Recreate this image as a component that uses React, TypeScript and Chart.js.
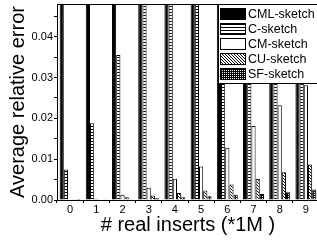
import React, { useEffect, useRef } from 'react';
import { Chart, registerables } from 'chart.js';

Chart.register(...registerables);

// ---- data ----
const categories = ['0', '1', '2', '3', '4', '5', '6', '7', '8', '9'];
const seriesLabels = ['CML-sketch', 'C-sketch', 'CM-sketch', 'CU-sketch', 'SF-sketch'];
// CML-sketch and most C-sketch bars run past the top of the plot (clipped); values above the axis are estimates
const cmlErrors = [0.09, 0.1, 0.11, 0.12, 0.13, 0.14, 0.15, 0.16, 0.17, 0.18];
const cErrors = [0.0075, 0.0188, 0.0355, 0.052, 0.068, 0.084, 0.1, 0.116, 0.132, 0.148];
const cmErrors = [0.0001, 0.0003, 0.0013, 0.003, 0.0052, 0.0082, 0.0128, 0.0181, 0.0232, 0.0281];
const cuErrors = [0.00005, 0.0001, 0.0007, 0.0011, 0.0017, 0.0023, 0.0038, 0.0052, 0.0068, 0.0087];
const sfErrors = [0.00002, 0.00005, 0.0002, 0.0004, 0.0007, 0.0009, 0.0013, 0.0015, 0.0019, 0.0026];
const yTickValues = [0, 0.005, 0.01, 0.015, 0.02, 0.025, 0.03, 0.035, 0.04, 0.045];
const yMax = 0.048;
const xTitle = '# real inserts (*1M )';
const yTitle = 'Average relative error';

const FONT = '"Liberation Sans", Arial, sans-serif';

function makeFill(kind: string): CanvasPattern | string {
  if (kind === 'solid') return '#000';
  if (kind === 'white') return '#fff';
  const c = document.createElement('canvas');
  const g = c.getContext('2d')!;
  if (kind === 'stripes') {
    c.width = 4; c.height = 3;
    g.fillStyle = '#fff'; g.fillRect(0, 0, 4, 3);
    g.fillStyle = '#000'; g.fillRect(0, 0, 4, 1);
  } else if (kind === 'hatch') {
    c.width = 3; c.height = 3;
    g.fillStyle = '#fff'; g.fillRect(0, 0, 3, 3);
    g.fillStyle = '#000';
    for (let i = 0; i < 3; i++) g.fillRect(i, i, 1, 1);
  } else {
    c.width = 2; c.height = 2;
    g.fillStyle = '#000'; g.fillRect(0, 0, 2, 2);
    g.fillStyle = '#fff'; g.fillRect(0, 0, 1, 1);
  }
  return g.createPattern(c, 'repeat')!;
}

const framePlugin = {
  id: 'topFrame',
  afterDatasetsDraw(chart: any) {
    const { ctx, chartArea } = chart;
    ctx.save();
    ctx.strokeStyle = '#000';
    ctx.lineWidth = 1;
    ctx.beginPath();
    ctx.moveTo(chartArea.left, Math.round(chartArea.top) + 0.5);
    ctx.lineTo(chartArea.right, Math.round(chartArea.top) + 0.5);
    ctx.stroke();
    ctx.restore();
  },
};

const boxLegendPlugin = {
  id: 'boxLegend',
  afterDraw(chart: any) {
    const { ctx, chartArea } = chart;
    const left = 218.5;
    const top = Math.round(chartArea.top) + 0.5;
    const rowH = 15;
    const n = chart.data.datasets.length;
    const boxH = 3 + n * rowH + 1;
    ctx.save();
    ctx.fillStyle = '#fff';
    ctx.fillRect(left, top, chart.width - left + 2, boxH);
    ctx.strokeStyle = '#000';
    ctx.lineWidth = 1;
    ctx.strokeRect(left, top, chart.width - left + 4, boxH);
    chart.data.datasets.forEach((ds: any, i: number) => {
      const sy = Math.round(top) + 3 + i * rowH;
      ctx.fillStyle = ds.backgroundColor;
      ctx.fillRect(220, sy, 26, 12);
      ctx.strokeRect(220.5, sy + 0.5, 25, 11);
      ctx.fillStyle = '#000';
      ctx.font = `12.5px ${FONT}`;
      ctx.textBaseline = 'middle';
      ctx.textAlign = 'left';
      ctx.fillText(ds.label, 248, sy + 6.5);
    });
    ctx.restore();
  },
};

export default function App() {
  const ref = useRef<HTMLCanvasElement>(null);

  useEffect(() => {
    const canvas = ref.current!;
    const fills = ['solid', 'stripes', 'white', 'hatch', 'dots'].map(makeFill);
    const series = [cmlErrors, cErrors, cmErrors, cuErrors, sfErrors];
    const chart = new Chart(canvas, {
      type: 'bar',
      data: {
        labels: categories,
        datasets: series.map((values, i) => ({
          label: seriesLabels[i],
          data: values,
          backgroundColor: fills[i] as any,
          borderColor: '#000',
          borderWidth: 1,
          categoryPercentage: 0.8,
          barPercentage: 1,
        })),
      },
      options: {
        responsive: false,
        animation: false,
        devicePixelRatio: 1,
        layout: { padding: { top: 4, left: 0, right: 1, bottom: 0 } },
        plugins: {
          legend: { display: false },
          tooltip: { enabled: false },
        },
        scales: {
          x: {
            grid: {
              display: true,
              drawOnChartArea: false,
              drawTicks: true,
              tickLength: 3,
              color: '#000',
              offset: true,
            },
            border: { display: true, color: '#000', width: 1 },
            ticks: {
              color: '#000',
              padding: 0,
              font: { family: FONT, size: 11 },
              maxRotation: 0,
              autoSkip: false,
            },
            title: {
              display: true,
              text: xTitle,
              color: '#000',
              font: { family: FONT, size: 20 },
              padding: { top: 0, bottom: 7 },
            },
            afterFit: (s: any) => {
              s.height = 44;
              s.paddingLeft = 0;
              s.paddingRight = 0;
            },
          },
          y: {
            min: 0,
            max: yMax,
            grid: {
              display: true,
              drawOnChartArea: false,
              drawTicks: true,
              tickLength: 3,
              color: '#000',
            },
            border: { display: true, color: '#000', width: 1 },
            afterBuildTicks: (s: any) => {
              s.ticks = yTickValues.map((v) => ({ value: v }));
            },
            ticks: {
              color: '#000',
              padding: 1,
              font: { family: FONT, size: 11 },
              callback: (v: any) => {
                const n = Number(v);
                const k = Math.round(n * 1000);
                return k % 10 === 0 ? n.toFixed(2) : '';
              },
            },
            title: {
              display: true,
              text: yTitle,
              color: '#000',
              font: { family: FONT, size: 20 },
              padding: { top: 6, bottom: 0 },
            },
            afterFit: (s: any) => {
              s.width = 57;
              s.paddingTop = 0;
              s.paddingBottom = 0;
            },
          },
        },
      },
      plugins: [framePlugin, boxLegendPlugin],
    });
    return () => chart.destroy();
  }, []);

  return (
    <div style={{ position: 'fixed', left: 0, top: 0, width: 320, height: 244, overflow: 'hidden', background: '#fff' }}>
      <canvas ref={ref} width={320} height={244} style={{ display: 'block', width: 320, height: 244 }} />
    </div>
  );
}
